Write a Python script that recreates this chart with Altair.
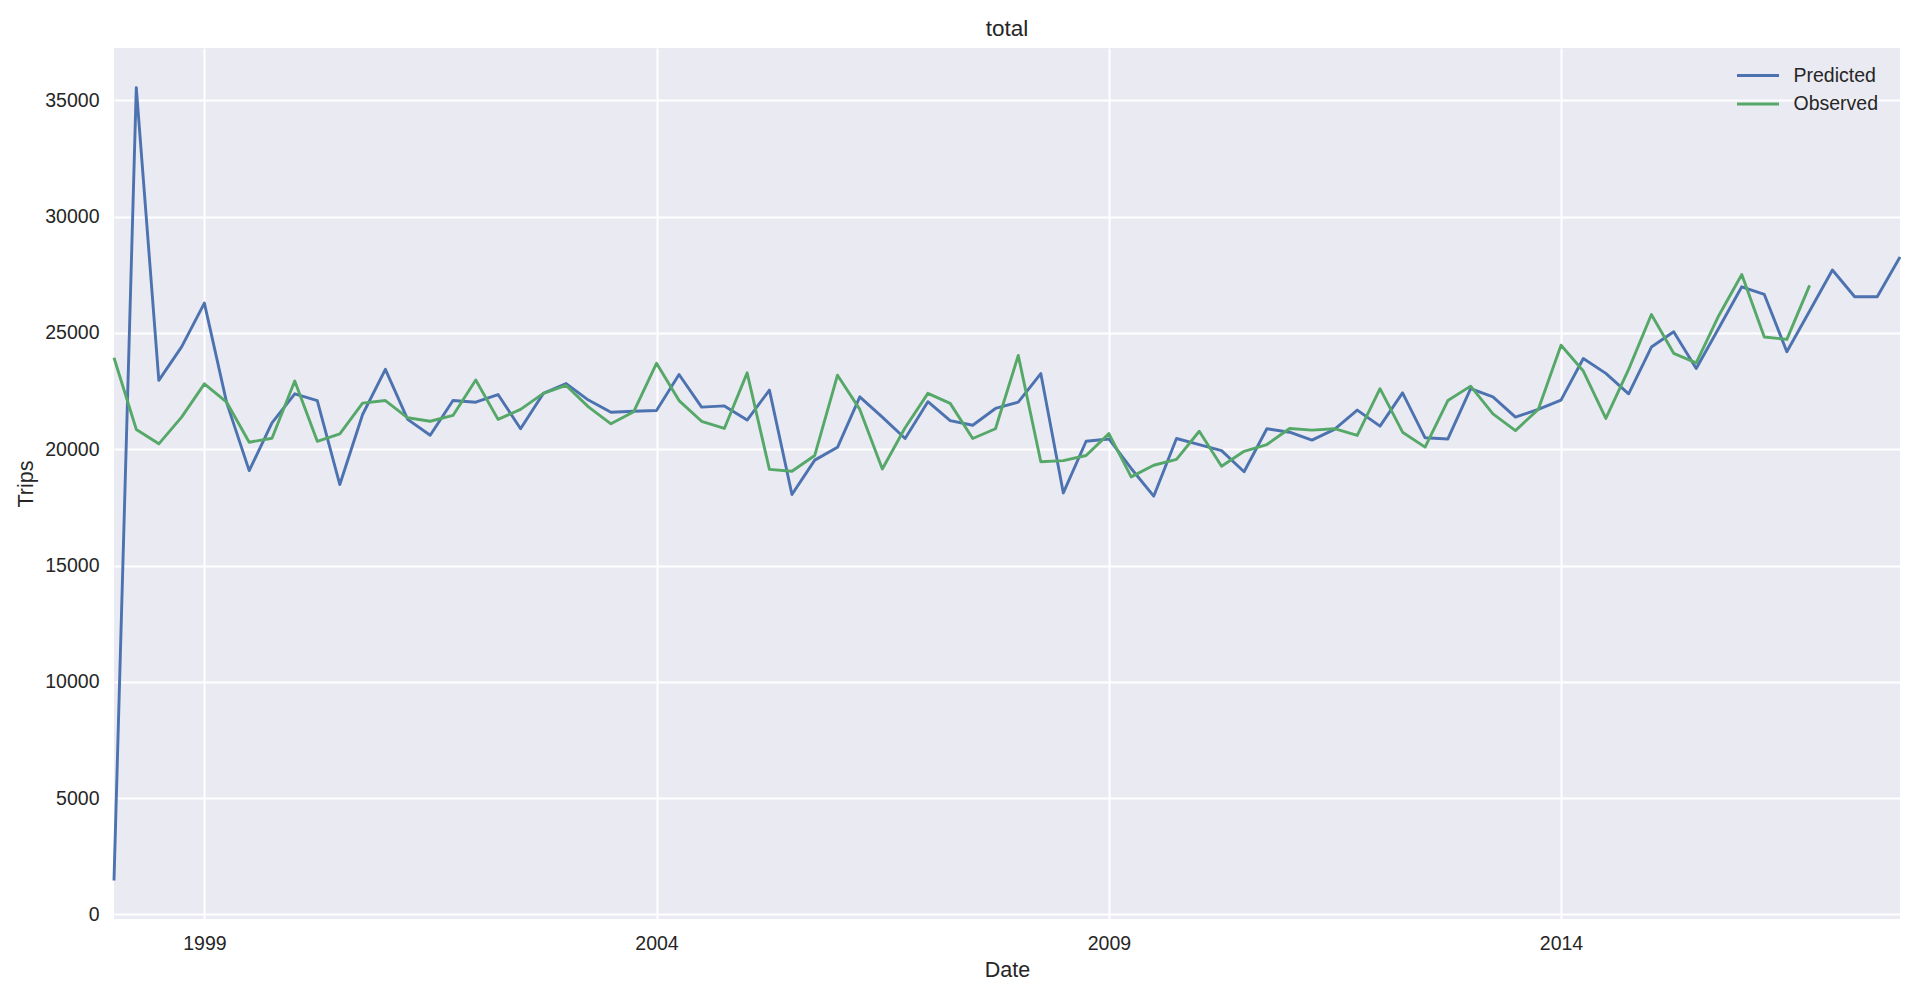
import altair as alt
import pandas as pd

# ---- data ----
start_date = "1998-01-01"
predicted = [
    1460, 35540, 22960, 24400, 26280, 22000, 19080, 21130, 22380, 22090,
    18480, 21490, 23430, 21280, 20600, 22090, 22020, 22350, 20880, 22400,
    22820, 22110, 21590, 21630, 21660, 23210, 21810, 21860, 21250, 22540,
    18050, 19530, 20080, 22250, 21380, 20460, 22040, 21230, 21030, 21750,
    22020, 23250, 18120, 20340, 20440, 19170, 17980, 20460, 20200, 19940,
    19030, 20880, 20730, 20390, 20850, 21680, 20990, 22420, 20490, 20440,
    22600, 22250, 21380, 21710, 22110, 23900, 23260, 22380, 24390, 25050,
    23470, 25220, 26980, 26650, 24190, 25940, 27700, 26550, 26550, 28260,
]
observed = [
    23930, 20850, 20230, 21380, 22810, 22020, 20300, 20470, 22930, 20340,
    20660, 21980, 22090, 21350, 21200, 21450, 22970, 21280, 21710, 22400,
    22740, 21820, 21090, 21610, 23690, 22090, 21200, 20890, 23280, 19130,
    19050, 19730, 23180, 21710, 19150, 20920, 22400, 21970, 20460, 20880,
    24030, 19460, 19510, 19730, 20670, 18810, 19310, 19560, 20770, 19270,
    19910, 20200, 20890, 20820, 20880, 20590, 22600, 20730, 20090, 22090,
    22710, 21520, 20800, 21710, 24470, 23360, 21320, 23430, 25790, 24120,
    23710, 25760, 27510, 24820, 24720, 27040,
]
series_names = ["Predicted", "Observed"]
series_colors = ["#4C72B0", "#55A868"]
x_tick_years = [1999, 2004, 2009, 2014]
y_tick_values = [0, 5000, 10000, 15000, 20000, 25000, 30000, 35000]

dates = pd.date_range(start_date, periods=len(predicted), freq="QS")
date_str = [d.strftime("%Y-%m-%d") for d in dates]

rows = []
for d, v in zip(date_str, predicted):
    rows.append({"Date": d, "Trips": v, "series": "Predicted"})
for d, v in zip(date_str, observed):
    rows.append({"Date": d, "Trips": v, "series": "Observed"})
df = pd.DataFrame(rows)

FONT = "Liberation Sans"
TXT = "#262626"

x_enc = alt.X(
    "Date:T",
    scale=alt.Scale(
        type="utc",
        nice=False,
        domain=[
            alt.DateTime(year=1998, month=1, date=1, utc=True),
            alt.DateTime(year=2017, month=10, date=1, utc=True),
        ],
    ),
    axis=alt.Axis(
        title="Date",
        values=[alt.DateTime(year=y, month=1, date=1, utc=True) for y in x_tick_years],
        format="%Y",
        grid=True,
        gridColor="white",
        gridWidth=2,
        domain=False,
        ticks=False,
        tickSize=0,
        labelFont=FONT,
        labelFontSize=19.5,
        labelColor=TXT,
        labelBaseline="alphabetic",
        labelPadding=30,
        labelFlush=False,
        labelOverlap=False,
        titleFont=FONT,
        titleFontSize=21.5,
        titleFontWeight="normal",
        titleColor=TXT,
        titleBaseline="alphabetic",
        titleY=57,
    ),
)
y_enc = alt.Y(
    "Trips:Q",
    scale=alt.Scale(domain=[-194, 37244], nice=False, zero=False),
    axis=alt.Axis(
        title="Trips",
        values=y_tick_values,
        format="d",
        grid=True,
        gridColor="white",
        gridWidth=2,
        domain=False,
        ticks=False,
        tickSize=0,
        labelFont=FONT,
        labelFontSize=19.5,
        labelColor=TXT,
        labelPadding=15,
        labelOverlap=False,
        titleFont=FONT,
        titleFontSize=21.5,
        titleFontWeight="normal",
        titleColor=TXT,
        titleAngle=270,
        titleBaseline="alphabetic",
        titleAlign="center",
        titleX=-81.6,
        titleY=435.5,
    ),
)
color_enc = alt.Color(
    "series:N",
    scale=alt.Scale(domain=series_names, range=series_colors),
    legend=alt.Legend(
        title=None,
        orient="none",
        legendX=1621.5,
        legendY=17.8,
        padding=0,
        symbolType="stroke",
        symbolSize=1764,
        symbolStrokeWidth=2.9,
        labelFont=FONT,
        labelFontSize=19.5,
        labelColor=TXT,
        labelOffset=13,
        rowPadding=7.4,
        clipHeight=19.5,
    ),
)

base = alt.Chart(df).mark_line(strokeWidth=2.9, strokeJoin="round").encode(
    x=x_enc, y=y_enc, color=color_enc
)
pred_layer = base.transform_filter(alt.datum.series == "Predicted")
obs_layer = base.transform_filter(alt.datum.series == "Observed")

chart = (
    alt.layer(pred_layer, obs_layer)
    .properties(
        width=1786,
        height=871,
        title=alt.TitleParams(
            "total",
            font=FONT,
            fontSize=22.5,
            fontWeight="normal",
            color=TXT,
            anchor="middle",
            baseline="alphabetic",
            offset=12,
            dy=22,
        ),
        autosize=alt.AutoSizeParams(type="none"),
        padding={"left": 106, "top": 40, "right": 2, "bottom": 66},
    )
    .configure(background="white")
    .configure_view(fill="#EAEAF2", stroke=None, strokeWidth=0)
)

chart.save("out.html", embed_options={"renderer": "svg", "actions": False})
